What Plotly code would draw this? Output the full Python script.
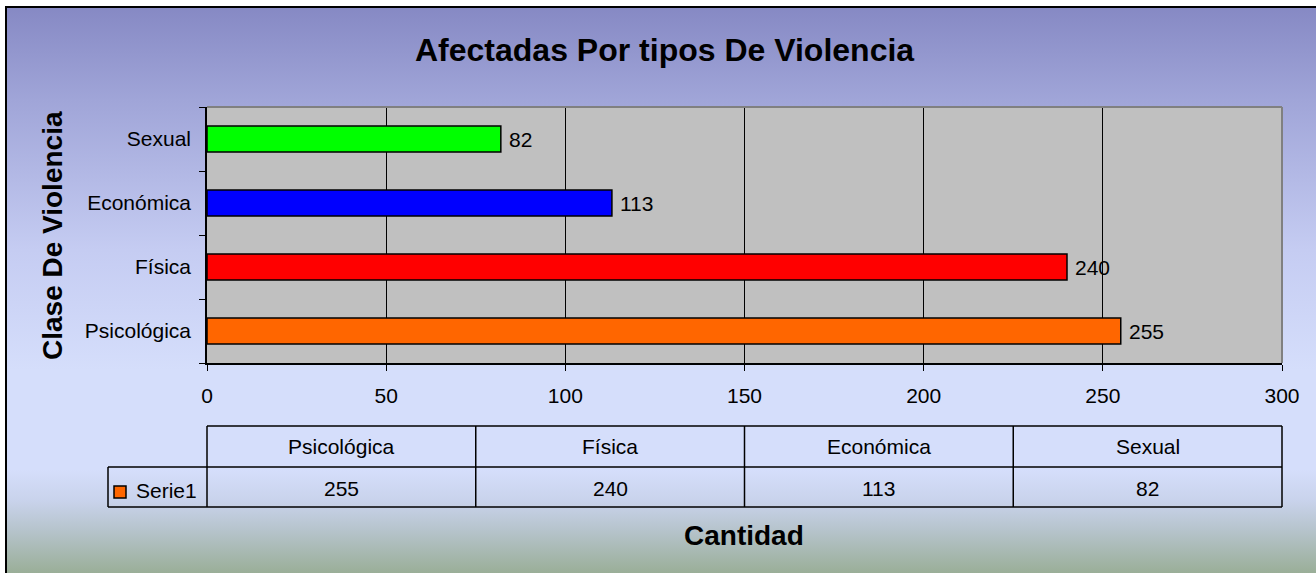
import base64
import plotly.graph_objects as go

# ---- data ----
categories = ["Psicológica", "Física", "Económica", "Sexual"]
values = [255, 240, 113, 82]
bar_colors = ["#ff6600", "#ff0000", "#0000ff", "#00ff00"]
series_name = "Serie1"
x_ticks = [0, 50, 100, 150, 200, 250, 300]
title = "Afectadas Por tipos De Violencia"
y_title = "Clase De Violencia"
x_title = "Cantidad"

W, H = 1316, 573
L, R, T, B = 207, 34, 107, 210
PW, PH = W - L - R, H - T - B


def px(xs):
    return (xs - L) / PW


def py(ys):
    return (H - B - ys) / PH


FONT = "Liberation Sans, Arial, sans-serif"

svg = f"""<svg xmlns='http://www.w3.org/2000/svg' width='{W}' height='{H}' preserveAspectRatio='none'>
<defs><linearGradient id='g' x1='0' y1='0' x2='0' y2='1'>
<stop offset='0.012' stop-color='#8689c4'/>
<stop offset='0.175' stop-color='#a0a5d8'/>
<stop offset='0.436' stop-color='#c5ccf2'/>
<stop offset='0.646' stop-color='#d5defb'/>
<stop offset='0.82' stop-color='#d5defb'/>
<stop offset='0.873' stop-color='#c9d3ec'/>
<stop offset='0.925' stop-color='#b6c4cc'/>
<stop offset='1' stop-color='#9aae98'/>
</linearGradient></defs>
<rect width='{W}' height='{H}' fill='url(#g)'/>
<rect x='{L}' y='{T}' width='{PW}' height='{PH}' fill='#c0c0c0'/>
<rect x='0' y='0' width='{W}' height='6' fill='white'/>
<rect x='0' y='0' width='5' height='{H}' fill='white'/></svg>"""
svg_uri = "data:image/svg+xml;base64," + base64.b64encode(svg.encode()).decode()

fig = go.Figure()
fig.add_trace(go.Bar(
    y=categories, x=values, orientation="h",
    marker=dict(color=bar_colors, line=dict(color="black", width=1.5)),
    width=0.41, hoverinfo="x+y", showlegend=False,
))

annotations = []
for c, v in zip(categories, values):
    annotations.append(dict(x=v, y=c, xref="x", yref="y", text=str(v), showarrow=False,
                            xanchor="left", xshift=6, font=dict(size=21, color="black", family=FONT)))
annotations.append(dict(x=px(664), y=py(50), xref="paper", yref="paper", text=f"<b>{title}</b>",
                        showarrow=False, xanchor="center", yanchor="middle",
                        font=dict(size=32, color="black", family=FONT)))
annotations.append(dict(x=px(52), y=py(236), xref="paper", yref="paper", text=f"<b>{y_title}</b>",
                        showarrow=False, textangle=-90, xanchor="center", yanchor="middle",
                        font=dict(size=28, color="black", family=FONT)))
annotations.append(dict(x=px(744), y=py(535), xref="paper", yref="paper", text=f"<b>{x_title}</b>",
                        showarrow=False, xanchor="center", yanchor="middle",
                        font=dict(size=28, color="black", family=FONT)))

shapes = []
# outer border: top & left
shapes.append(dict(type="line", xref="paper", yref="paper", x0=px(5), x1=px(1330), y0=py(7), y1=py(7),
                   line=dict(color="black", width=2)))
shapes.append(dict(type="line", xref="paper", yref="paper", x0=px(6), x1=px(6), y0=py(6), y1=py(600),
                   line=dict(color="black", width=2)))
# plot area border top/right (gray)
shapes.append(dict(type="line", xref="paper", yref="paper", x0=0, x1=1, y0=1, y1=1,
                   line=dict(color="#808080", width=2)))
shapes.append(dict(type="line", xref="paper", yref="paper", x0=1, x1=1, y0=0, y1=1,
                   line=dict(color="#808080", width=2)))

# data table
t_top, t_mid, t_bot = py(426), py(467), py(507)
leg_left = px(108)
n = len(categories)
lc = dict(color="black", width=1.5)
shapes.append(dict(type="line", xref="paper", yref="paper", x0=0, x1=1, y0=t_top, y1=t_top, line=lc))
shapes.append(dict(type="line", xref="paper", yref="paper", x0=leg_left, x1=1, y0=t_mid, y1=t_mid, line=lc))
shapes.append(dict(type="line", xref="paper", yref="paper", x0=leg_left, x1=1, y0=t_bot, y1=t_bot, line=lc))
shapes.append(dict(type="line", xref="paper", yref="paper", x0=leg_left, x1=leg_left, y0=t_bot, y1=t_mid, line=lc))
for i in range(n + 1):
    shapes.append(dict(type="line", xref="paper", yref="paper", x0=i / n, x1=i / n, y0=t_bot, y1=t_top, line=lc))
for i, (c, v) in enumerate(zip(categories, values)):
    xc = (i + 0.5) / n
    annotations.append(dict(x=xc, y=py(446), xref="paper", yref="paper", text=c, showarrow=False,
                            xanchor="center", yanchor="middle", font=dict(size=21, color="black", family=FONT)))
    annotations.append(dict(x=xc, y=py(488), xref="paper", yref="paper", text=str(v), showarrow=False,
                            xanchor="center", yanchor="middle", font=dict(size=21, color="black", family=FONT)))
shapes.append(dict(type="rect", xref="paper", yref="paper", x0=px(114), x1=px(126), y0=py(498), y1=py(486),
                   fillcolor=bar_colors[0], line=dict(color="black", width=1.5)))
annotations.append(dict(x=px(134), y=py(490), xref="paper", yref="paper", text=series_name, showarrow=False,
                        xanchor="left", yanchor="middle", font=dict(size=21, color="black", family=FONT)))

fig.update_layout(
    width=W, height=H,
    margin=dict(l=L, r=R, t=T, b=B, pad=0),
    paper_bgcolor="#d5defb",
    plot_bgcolor="#c0c0c0",
    font=dict(family=FONT, size=21, color="black"),
    images=[dict(source=svg_uri, xref="paper", yref="paper", x=-L / PW, y=(H - B) / PH,
                 sizex=W / PW, sizey=H / PH, sizing="stretch", layer="below",
                 xanchor="left", yanchor="top")],
    annotations=annotations,
    shapes=shapes,
)
fig.update_xaxes(range=[0, 300], tickvals=x_ticks, showgrid=True, gridcolor="black", gridwidth=1,
                 zeroline=False, showline=True, linecolor="black", linewidth=1.5,
                 ticks="outside", ticklen=6, tickcolor="black", tickwidth=1,
                 ticklabelstandoff=7, tickfont=dict(size=21, family=FONT))
fig.update_yaxes(categoryorder="array", categoryarray=categories, showgrid=False,
                 showline=True, linecolor="black", linewidth=1.5,
                 ticks="outside", ticklen=6, tickcolor="black", tickwidth=1, tickson="boundaries",
                 ticklabelstandoff=10, tickfont=dict(size=21, family=FONT))

fig.write_html("out.html", config={"displayModeBar": False},
               post_script="document.body.style.margin='0';document.body.style.overflow='hidden';")
